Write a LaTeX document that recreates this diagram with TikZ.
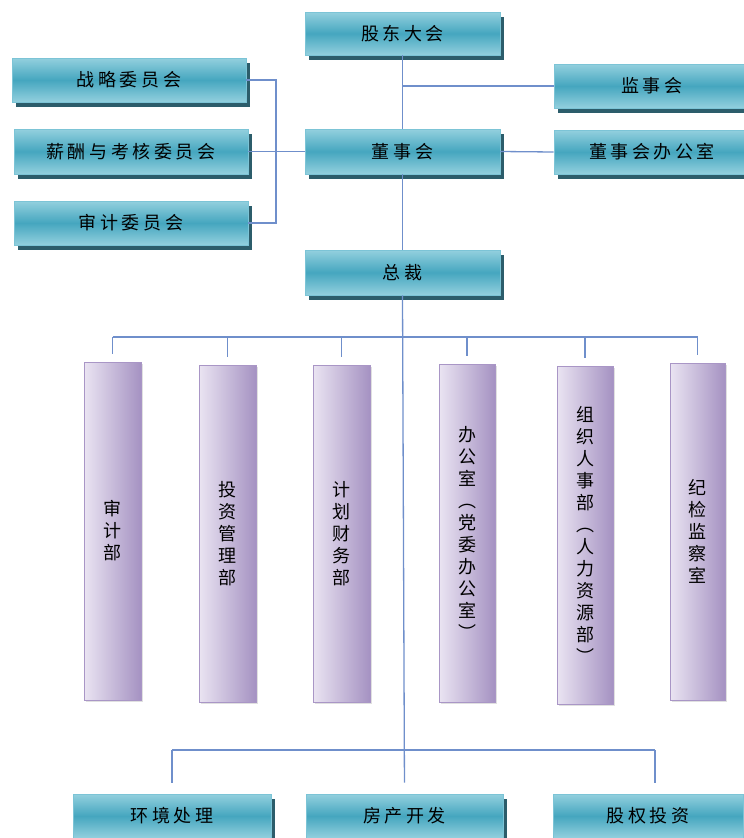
\documentclass[tikz,border=0pt]{standalone}
\usepackage{fontspec}
\setmainfont{Noto Sans CJK SC}[LetterSpace=20]
\usetikzlibrary{shadows}
\definecolor{tealmid}{HTML}{45A6BF}
\definecolor{tealhi}{HTML}{93D0DE}
\definecolor{tealedge}{HTML}{7CC4D6}
\definecolor{tealshadow}{HTML}{2C5D6B}
\definecolor{lavlight}{HTML}{EAE4F2}
\definecolor{lavdark}{HTML}{A592C2}
\definecolor{lavedge}{HTML}{A996C6}
\definecolor{linkc}{HTML}{6F8FCB}
\tikzset{
  tealbox/.style={draw=tealedge, line width=0.8pt, top color=tealhi, bottom color=tealhi, middle color=tealmid,
    drop shadow={shadow xshift=4pt, shadow yshift=-5pt, fill=tealshadow, opacity=1},
    font=\fontsize{18}{20}\selectfont, inner sep=0pt},
  lavbox/.style={draw=lavedge, line width=0.8pt, left color=lavlight, right color=lavdark,
    drop shadow={shadow xshift=2pt, shadow yshift=-2pt, fill=black!12, opacity=1},
    font=\fontsize{18}{22}\selectfont, align=center, inner sep=0pt},
  link/.style={draw=linkc, line width=1.3pt}
}
\begin{document}
\begin{tikzpicture}[x=1pt, y=-1pt]
\useasboundingbox (0,0) rectangle (744,838);
% board level
\node (gd)   [tealbox, minimum width=195pt, minimum height=43pt] at (402.5,33.5) {股东大会};
\node (zl)   [tealbox, minimum width=234pt, minimum height=44pt] at (129,80) {战略委员会};
\node (xc)   [tealbox, minimum width=234pt, minimum height=45pt] at (131,151.5) {薪酬与考核委员会};
\node (sjwy) [tealbox, minimum width=234pt, minimum height=44pt] at (131,223) {审计委员会};
\node (dsh)  [tealbox, minimum width=195pt, minimum height=45pt] at (402.5,151.5) {董事会};
\node (jsh)  [tealbox, minimum width=196pt, minimum height=44pt] at (652,86) {监事会};
\node (dbgs) [tealbox, minimum width=196pt, minimum height=44pt] at (652,152) {董事会办公室};
\node (zc)   [tealbox, minimum width=195pt, minimum height=45pt] at (402.5,272.5) {总裁};
% departments
\node (sjb) [lavbox, minimum width=57pt, minimum height=338pt] at (112.5,531) {审\\计\\部};
\node (tz)  [lavbox, minimum width=57pt, minimum height=337pt] at (227.5,533.5) {投\\资\\管\\理\\部};
\node (jh)  [lavbox, minimum width=57pt, minimum height=337pt] at (341.5,533.5) {计\\划\\财\\务\\部};
\node (bgs) [lavbox, minimum width=56pt, minimum height=338pt] at (467,533) {办\\公\\室\\︵\\党\\委\\办\\公\\室\\︶};
\node (zz)  [lavbox, minimum width=56pt, minimum height=338pt] at (585,535) {组\\织\\人\\事\\部\\︵\\人\\力\\资\\源\\部\\︶};
\node (jj)  [lavbox, minimum width=55pt, minimum height=337pt] at (697.5,531.5) {纪\\检\\监\\察\\室};
% business lines
\node (hj) [tealbox, minimum width=198pt, minimum height=44pt] at (172,816) {环境处理};
\node (fc) [tealbox, minimum width=197pt, minimum height=44pt] at (404.5,816) {房产开发};
\node (gq) [tealbox, minimum width=190pt, minimum height=44pt] at (648,816) {股权投资};
\coordinate (br) at (276,151.5);
\coordinate (bus) at (402.5,337);
\coordinate (busb) at (402.5,750);
\coordinate (gqtop) at (655,794);
% connectors
\draw[link] (gd.south) -- (dsh.north);
\draw[link] (jsh.west) -- (jsh.west -| gd.south);
\draw[link] (dsh.east) -- (dbgs.west);
\draw[link] (zl.east) -- (zl.east -| br) -- (sjwy.east -| br) -- (sjwy.east);
\draw[link] (xc.east) -- (dsh.west);
\draw[link] (dsh.south) -- (zc.north);
\draw[link, shorten >=11pt] (zc.south) -- (fc.north);
\draw[link] (sjb.north |- bus) -- (jj.north |- bus);
\foreach \d in {sjb,tz,jh,bgs,zz,jj}
  \draw[link, shorten >=8pt] (\d.north |- bus) -- (\d.north);
\draw[link] (hj.north |- busb) -- (gqtop |- busb);
\draw[link, shorten >=11pt] (hj.north |- busb) -- (hj.north);
\draw[link, shorten >=11pt] (gqtop |- busb) -- (gqtop);
\end{tikzpicture}
\end{document}
